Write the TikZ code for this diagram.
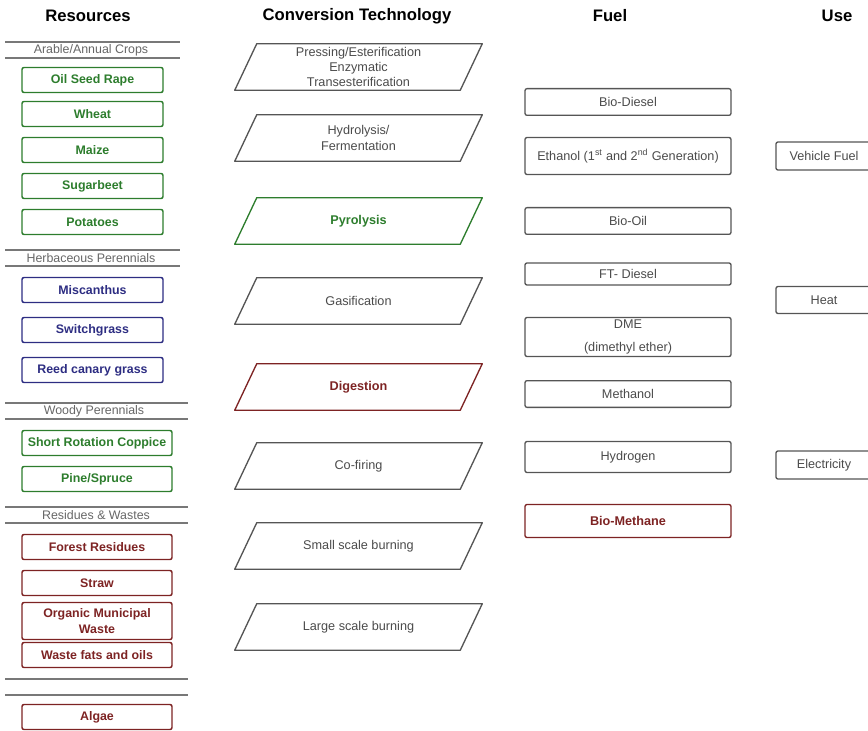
\documentclass[tikz,border=0pt]{standalone}
\usepackage{fontspec}
\setmainfont{Liberation Sans}
\definecolor{resgreen}{RGB}{45,125,45}
\definecolor{resblue}{RGB}{45,45,130}
\definecolor{resred}{RGB}{125,35,35}
\definecolor{boxgray}{RGB}{85,85,85}
\definecolor{txtgray}{RGB}{75,75,75}
\definecolor{rulegray}{RGB}{120,120,120}
\tikzset{
    head/.style={font=\fontsize{12.5}{14}\selectfont\bfseries},
    group text/.style={text=txtgray!85,font=\fontsize{9.3}{10}\selectfont},
    group line/.style={draw=rulegray,line width=1.5pt},
    res/.style={draw=#1,text=#1,line width=1.1pt,rounded corners=1.5pt,minimum width=105.75pt,
        minimum height=18.75pt,inner sep=1pt,align=center,font=\fontsize{9.3}{11.5}\selectfont\bfseries},
    res wide/.style={res=#1,minimum width=112.5pt},
    conv/.style={text=txtgray,minimum width=168.75pt,minimum height=34.5pt,inner sep=1pt,align=center,
        font=\fontsize{9.5}{11.5}\selectfont},
    conv col/.style={conv,text=#1,font=\fontsize{9.5}{11.5}\selectfont\bfseries},
    conv line/.style={draw=#1,line width=1pt,line join=round},
    fuel/.style={draw=boxgray,text=txtgray,line width=1pt,rounded corners=1.5pt,minimum width=154.5pt,
        minimum height=#1,inner sep=1pt,align=center,font=\fontsize{9.5}{11.5}\selectfont},
    fuel/.default=20pt,
    use/.style={fuel=#1,minimum width=72pt},
    use/.default=21pt
}

\begin{document}
\begin{tikzpicture}[x=0.75pt,y=-0.75pt]
    \useasboundingbox (0,0) rectangle (868,731);
    \clip (0,0) rectangle (868,731);

    \node[head] (hres) at (88,16) {Resources};
    \node[head] (hconv) at (357,16) {Conversion Technology};
    \node[head] (hfuel) at (610,16) {Fuel};
    \node[head] (huse) at (837,16) {Use};

    % resources
    \draw[group line] (5,42) -- (180,42) (5,58) -- (180,58);
    \node[group text] (arable) at (91,50) {Arable/Annual Crops};
    \node[res=resgreen] (osr) at (92.5,80) {Oil Seed Rape};
    \node[res=resgreen] (wheat) at (92.5,114) {Wheat};
    \node[res=resgreen] (maize) at (92.5,150) {Maize};
    \node[res=resgreen] (beet) at (92.5,186) {Sugarbeet};
    \node[res=resgreen] (potato) at (92.5,222) {Potatoes};

    \draw[group line] (5,250) -- (180,250) (5,266) -- (180,266);
    \node[group text] (herb) at (91,258) {Herbaceous Perennials};
    \node[res=resblue] (misc) at (92.5,290) {Miscanthus};
    \node[res=resblue] (switch) at (92.5,330) {Switchgrass};
    \node[res=resblue] (reed) at (92.5,370) {Reed canary grass};

    \draw[group line] (5,403) -- (188,403) (5,419) -- (188,419);
    \node[group text] (woody) at (94,411) {Woody Perennials};
    \node[res wide=resgreen] (src) at (97,443) {Short Rotation Coppice};
    \node[res wide=resgreen] (pine) at (97,479) {Pine/Spruce};

    \draw[group line] (5,507) -- (188,507) (5,523) -- (188,523);
    \node[group text] (resid) at (96,515) {Residues \& Wastes};
    \node[res wide=resred] (forest) at (97,547) {Forest Residues};
    \node[res wide=resred] (straw) at (97,583) {Straw};
    \node[res wide=resred,minimum height=27.75pt] (omw) at (97,621) {Organic Municipal\\Waste};
    \node[res wide=resred] (fats) at (97,655) {Waste fats and oils};

    \draw[group line] (5,679) -- (188,679) (5,695) -- (188,695);
    \node[res wide=resred] (algae) at (97,717) {Algae};

    % conversion
    \node[conv] (press) at (358.5,67) {Pressing/Esterification\\Enzymatic\\Transesterification};
    \node[conv] (hydro) at (358.5,138) {Hydrolysis/\\Fermentation};
    \node[conv col=resgreen] (pyro) at (358.5,221) {Pyrolysis};
    \node[conv] (gasif) at (358.5,301) {Gasification};
    \node[conv col=resred] (digest) at (358.5,387) {Digestion};
    \node[conv] (cofire) at (358.5,466) {Co-firing};
    \node[conv] (small) at (358.5,546) {Small scale burning};
    \node[conv] (large) at (358.5,627) {Large scale burning};
    \foreach \n/\c in {press/boxgray,hydro/boxgray,pyro/resgreen,gasif/boxgray,
        digest/resred,cofire/boxgray,small/boxgray,large/boxgray}
        \draw[conv line=\c] ([xshift=-8.25pt]\n.south west) -- ([xshift=8.25pt]\n.north west)
            -- ([xshift=8.25pt]\n.north east) -- ([xshift=-8.25pt]\n.south east) -- cycle;

    % fuel
    \node[fuel] (diesel) at (628,102) {Bio-Diesel};
    \node[fuel=27.75pt] (ethanol) at (628,156) {Ethanol (1\textsuperscript{st} and 2\textsuperscript{nd} Generation)};
    \node[fuel] (oil) at (628,221) {Bio-Oil};
    \node[fuel=16.5pt] (ftd) at (628,274) {FT- Diesel};
    \node[fuel=29.25pt] (dme) at (628,337) {DME\\[6pt](dimethyl ether)};
    \node[fuel] (methanol) at (628,394) {Methanol};
    \node[fuel=23.25pt] (hydrogen) at (628,457) {Hydrogen};
    \node[fuel=24.75pt,draw=resred,text=resred,font=\fontsize{9.5}{11.5}\selectfont\bfseries] (methane) at (628,521) {Bio-Methane};

    % use
    \node[use] (vehicle) at (824,156) {Vehicle Fuel};
    \node[use=20.25pt] (heat) at (824,300) {Heat};
    \node[use] (elec) at (824,465) {Electricity};
\end{tikzpicture}
\end{document}
